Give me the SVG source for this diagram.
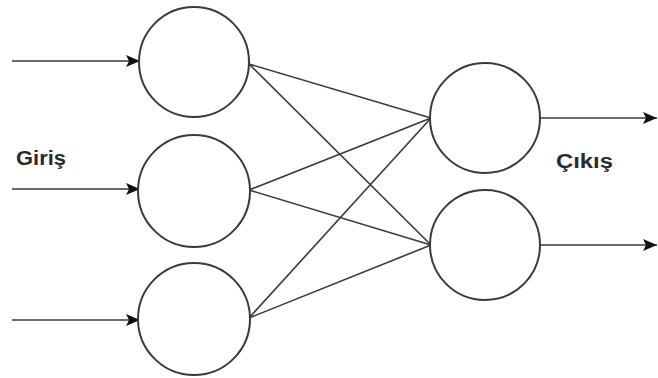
<svg xmlns="http://www.w3.org/2000/svg" width="658" height="378" viewBox="0 0 658 378">
<style>
.node{fill:#fff;stroke:#3a3a3a;stroke-width:2}
.edge{stroke:#3a3a3a;stroke-width:1.6;fill:none}
.lbl{font-family:"Liberation Sans",Arial,sans-serif;font-weight:bold;font-size:20px;fill:#2b2b2b}
</style>
<defs>
<marker id="arr2" markerWidth="14" markerHeight="12" refX="14" refY="6" orient="auto" markerUnits="userSpaceOnUse" viewBox="0 0 14 12">
<path d="M0,0 L14,6 L0,12 L3,6 Z" fill="#111"/>
</marker>
</defs>
<rect width="658" height="378" fill="#fff"/>
<g id="connectors">
<line class="edge" x1="12" y1="61" x2="140" y2="61" marker-end="url(#arr2)"/>
<line class="edge" x1="12" y1="189" x2="140" y2="189" marker-end="url(#arr2)"/>
<line class="edge" x1="12" y1="320" x2="140" y2="320" marker-end="url(#arr2)"/>
<line class="edge" x1="249" y1="64" x2="431" y2="118"/>
<line class="edge" x1="249" y1="64" x2="431" y2="245"/>
<line class="edge" x1="249" y1="190" x2="431" y2="118"/>
<line class="edge" x1="249" y1="190" x2="431" y2="245"/>
<line class="edge" x1="249" y1="318" x2="431" y2="118"/>
<line class="edge" x1="249" y1="318" x2="431" y2="245"/>
<line class="edge" x1="540" y1="118" x2="657" y2="118" marker-end="url(#arr2)"/>
<line class="edge" x1="540" y1="245" x2="657" y2="245" marker-end="url(#arr2)"/>
</g>
<g id="in1"><circle class="node" cx="194" cy="62" r="55"/></g>
<g id="in2"><circle class="node" cx="194" cy="191" r="56"/></g>
<g id="in3"><circle class="node" cx="194" cy="319" r="56"/></g>
<g id="out1"><circle class="node" cx="485" cy="118" r="55"/></g>
<g id="out2"><circle class="node" cx="485" cy="245" r="55"/></g>
<g id="label-giris"><text class="lbl" x="16" y="165" textLength="50" lengthAdjust="spacingAndGlyphs">Giriş</text></g>
<g id="label-cikis"><text class="lbl" x="556" y="168" textLength="57" lengthAdjust="spacingAndGlyphs">Çıkış</text></g>
</svg>
